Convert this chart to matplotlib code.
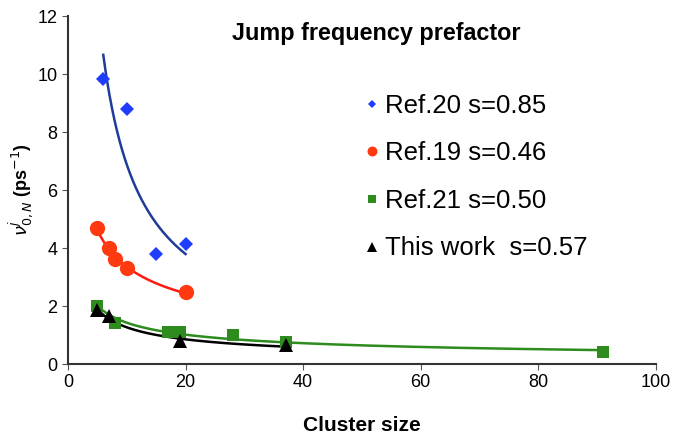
import numpy as np
import matplotlib
matplotlib.use("Agg")
import matplotlib.pyplot as plt

plt.rcParams['font.family'] = ['Liberation Sans', 'DejaVu Sans']

# cluster size / prefactor (ps^-1)
ref20_x = [6, 10, 15, 20]
ref20_y = [9.83, 8.79, 3.79, 4.13]
ref19_x = [5, 7, 8, 10, 20]
ref19_y = [4.70, 3.99, 3.61, 3.32, 2.47]
ref21_x = [5, 8, 17, 19, 28, 37, 91]
ref21_y = [2.0, 1.42, 1.11, 1.09, 0.99, 0.76, 0.43]
work_x = [5, 7, 19, 37]
work_y = [1.85, 1.66, 0.78, 0.64]

labels = ['Ref.20 s=0.85', 'Ref.19 s=0.46', 'Ref.21 s=0.50', 'This work  s=0.57']

def power_fit(x, y):
    # excel style power trendline y = a*x^b
    b, loga = np.polyfit(np.log(x), np.log(y), 1)
    xx = np.linspace(min(x), max(x), 200)
    return xx, np.exp(loga) * xx ** b

fig = plt.figure(figsize=(6.82, 4.37), dpi=100)
ax = fig.add_axes([0.0997, 0.167, 0.862, 0.796])

series = [
    (ref20_x, ref20_y, 'D', '#1f3cff', '#1f3c99', 7, labels[0]),
    (ref19_x, ref19_y, 'o', '#ff3a10', '#ff1a10', 11, labels[1]),
    (ref21_x, ref21_y, 's', '#2e8b1e', '#2e8b1e', 9, labels[2]),
    (work_x, work_y, '^', 'black', 'black', 10, labels[3]),
]
handles = []
for x, y, m, c, lc, ms, lab in series:
    xx, yy = power_fit(x, y)
    ax.plot(xx, yy, color=lc, lw=1.8, zorder=2)
    ax.plot(x, y, m, color=c, ms=ms, mew=0, zorder=3)
    h, = ax.plot([], [], m, color=c, ms=ms * 0.65, mew=0, label=lab)
    handles.append(h)

ax.set_xlim(0, 100)
ax.set_ylim(0, 12)
ax.set_xticks(np.arange(0, 101, 20))
ax.set_yticks(np.arange(0, 13, 2))
ax.tick_params(labelsize=13, direction='out', length=4, color='#555555')
for s in ['top', 'right']:
    ax.spines[s].set_visible(False)
for s in ['left', 'bottom']:
    ax.spines[s].set_color('#333333')
    ax.spines[s].set_linewidth(1.5)

ax.set_xlabel('Cluster size', fontsize=15, fontweight='bold', labelpad=18)
ax.set_ylabel(r'$\nu^{j}_{0,N}$ (ps$^{-1}$)', fontsize=13, fontweight='bold', labelpad=2)
ax.text(0.524, 0.951, 'Jump frequency prefactor', transform=ax.transAxes,
        ha='center', va='center', fontsize=16.8, fontweight='bold')

ax.legend(handles=handles, loc='upper left', bbox_to_anchor=(0.485, 0.807),
          frameon=False, fontsize=18.5, handletextpad=0.15, handlelength=0.7,
          labelspacing=0.92, borderaxespad=0)

fig.savefig('out.png', dpi=100)
